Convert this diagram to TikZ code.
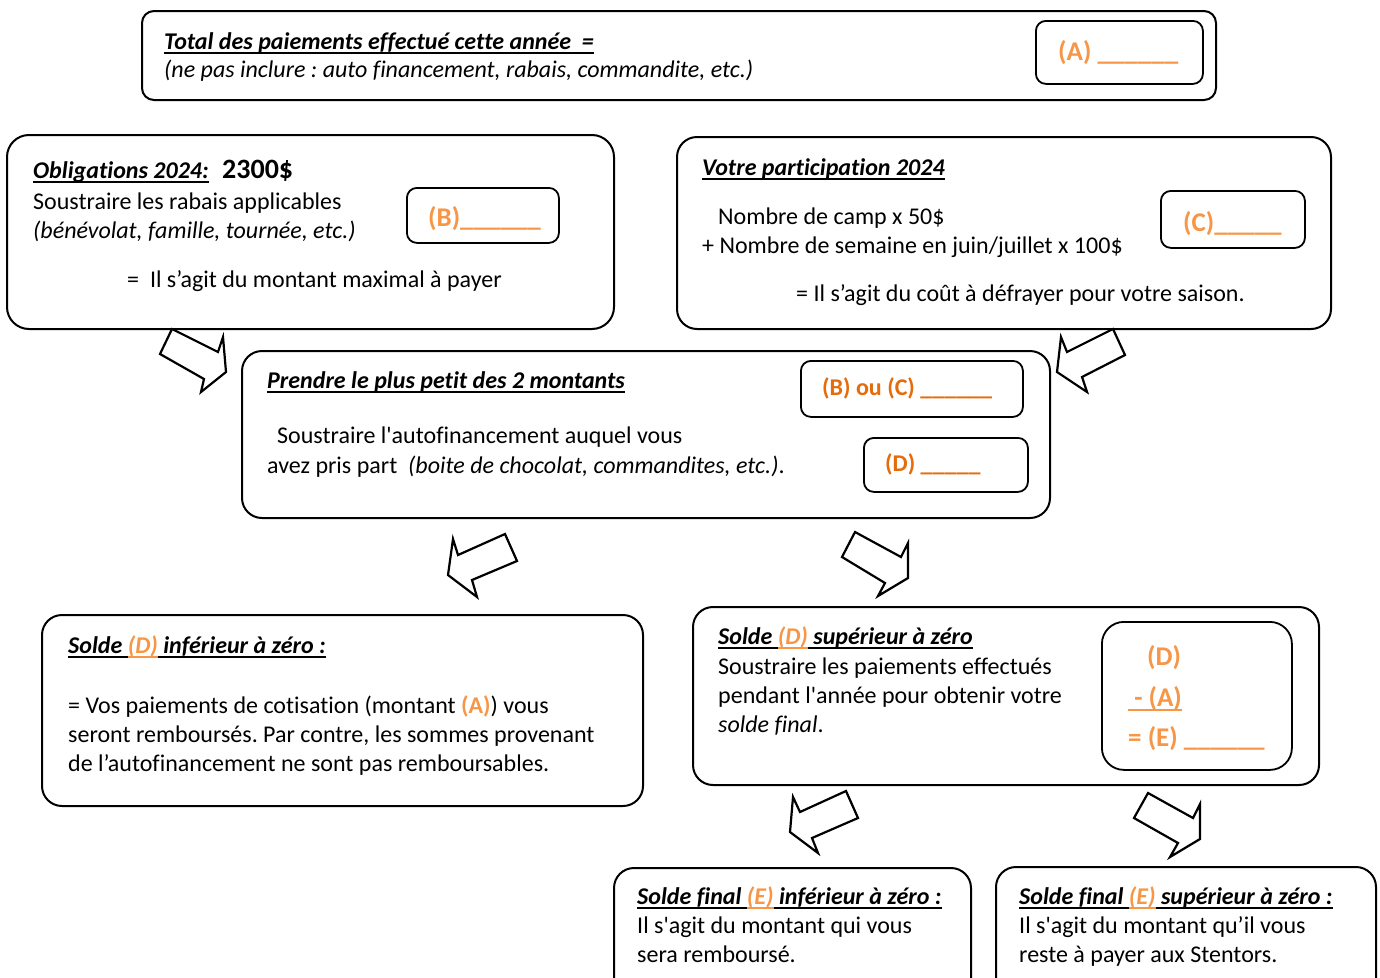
\documentclass[tikz,border=0pt]{standalone}
\usepackage{fontspec}
\setmainfont{Carlito}[Ligatures={TeX,NoCommon}]
\definecolor{lor}{HTML}{F79646}
\definecolor{dor}{HTML}{E46C0A}
\frenchspacing
\newcommand\myul[1]{\setbox0\hbox{#1}\rlap{\vrule height -3pt depth 5pt width \wd0}\box0}
\tikzset{
 outer/.style={draw=black, line width=2pt, rounded corners=20pt, anchor=north west, inner sep=0pt},
 topbox/.style={outer, rounded corners=12pt},
 inner/.style={draw=black, line width=1.8pt, rounded corners=10pt, anchor=north west, inner sep=0pt},
 txt/.style={anchor=base west, inner sep=0pt, font=\fontsize{24}{29}\selectfont},
 ttl/.style={txt, font=\fontsize{24}{29}\selectfont\bfseries\itshape},
 ans/.style={anchor=base west, inner sep=0pt, font=\fontsize{27}{32}\selectfont\bfseries, text=lor},
 ansd/.style={anchor=base west, inner sep=0pt, font=\fontsize{24}{29}\selectfont\bfseries, text=dor},
 barrow/.style={draw=black, line width=2.2pt, fill=white, line join=miter},
}
\begin{document}
\begin{tikzpicture}[x=1pt,y=-1pt]
\useasboundingbox[fill=white] (0,0) rectangle (1380,977);

% ---------- top box
\node[topbox, minimum width=1074pt, minimum height=89pt] (top) at (141,10) {};
\node[inner, minimum width=167pt, minimum height=63pt] (boxA) at (1035,20) {};
\node[ttl] (t1) at (164,49) {\myul{Total des paiements effectué cette année~ =}};
\node[txt, font=\fontsize{24}{29}\selectfont\itshape] (t2) at (164,77) {(ne pas inclure : auto financement, rabais, commandite, etc.)};
\node[ans] (aA) at (1058,60) {(A) \_\_\_\_\_\_};

% ---------- obligations
\node[outer, minimum width=607pt, minimum height=194pt, rounded corners=22pt] (obl) at (6,134) {};
\node[inner, minimum width=152pt, minimum height=55pt] (boxB) at (406,187) {};
\node[ttl] (o1) at (33,178) {\myul{Obligations 2024:}};
\node[anchor=base west, inner sep=0pt, font=\fontsize{28}{32}\selectfont\bfseries] (o2) at (222,178) {2300\$};
\node[txt] (o3) at (33,209) {Soustraire les rabais applicables};
\node[txt, font=\fontsize{24}{29}\selectfont\itshape] (o4) at (33,238) {(bénévolat, famille, tournée, etc.)};
\node[txt] (o5) at (127,287) {=~ Il s’agit du montant maximal à payer};
\node[ans] (aB) at (428,226) {(B)\_\_\_\_\_\_};

% ---------- participation
\node[outer, minimum width=654pt, minimum height=192pt] (par) at (676,136) {};
\node[inner, minimum width=144pt, minimum height=57pt] (boxC) at (1160,190) {};
\node[ttl] (p1) at (702,175) {\myul{Votre participation 2024}};
\node[txt] (p2) at (718,224) {Nombre de camp x 50\$};
\node[txt] (p3) at (702,253) {+ Nombre de semaine en juin/juillet x 100\$};
\node[txt] (p4) at (796,301) {= Il s’agit du coût à défrayer pour votre saison.};
\node[ans] (aC) at (1183,231) {(C)\_\_\_\_\_};

% ---------- prendre
\node[outer, minimum width=808pt, minimum height=167pt] (pre) at (241,350) {};
\node[inner, minimum width=222pt, minimum height=56pt] (boxBC) at (800,360) {};
\node[inner, minimum width=164pt, minimum height=54pt] (boxD) at (863,437) {};
\node[ttl] (r1) at (267,388) {\myul{Prendre le plus petit des 2 montants}};
\node[txt] (r2) at (277,443) {Soustraire l\textquotesingle autofinancement auquel vous};
\node[txt] (r3) at (267,473) {avez pris part~ \textit{(boite de chocolat, commandites, etc.)}.};
\node[ansd] (aBC) at (822,395) {(B) ou (C) \_\_\_\_\_\_};
\node[ansd] (aD) at (885,471) {(D) \_\_\_\_\_};

% ---------- solde D inferieur
\node[outer, minimum width=601pt, minimum height=191pt] (sdi) at (41,614) {};
\node[ttl] (s1) at (68,653) {\myul{Solde }{\color{lor}\myul{(D)}}\myul{ inférieur à zéro :}};
\node[txt] (s2) at (68,713) {= Vos paiements de cotisation (montant \textbf{\color{lor}(A)}) vous};
\node[txt] (s3) at (68,742) {seront remboursés. Par contre, les sommes provenant};
\node[txt] (s4) at (68,771) {de l’autofinancement ne sont pas remboursables.};

% ---------- solde D superieur
\node[outer, minimum width=626pt, minimum height=178pt] (sds) at (692,606) {};
\node[inner, minimum width=190pt, minimum height=148pt, rounded corners=22pt] (boxE) at (1101,621) {};
\node[ttl] (u1) at (718,644) {\myul{Solde }{\color{lor}\myul{(D)}}\myul{ supérieur à zéro}};
\node[txt] (u2) at (718,674) {Soustraire les paiements effectués};
\node[txt] (u3) at (718,703) {pendant l\textquotesingle année pour obtenir votre};
\node[txt] (u4) at (718,732) {\textit{solde final}.};
\node[ans] (e1) at (1147,665) {(D)};
\node[ans] (e2) at (1128,706) {\myul{~- (A)}};
\node[ans] (e3) at (1128,746) {= (E) \_\_\_\_\_\_};

% ---------- solde final inferieur
\node[outer, minimum width=357pt, minimum height=140pt] (sfi) at (613,867) {};
\node[ttl] (f1) at (637,904) {\myul{Solde final }{\color{lor}\myul{(E)}}\myul{ inférieur à zéro :}};
\node[txt] (f2) at (637,933) {Il s\textquotesingle agit du montant qui vous};
\node[txt] (f3) at (637,962) {sera remboursé.};

% ---------- solde final superieur
\node[outer, minimum width=380pt, minimum height=140pt] (sfs) at (995,866) {};
\node[ttl] (g1) at (1019,904) {\myul{Solde final }{\color{lor}\myul{(E)}}\myul{ supérieur à zéro :}};
\node[txt] (g2) at (1019,933) {Il s\textquotesingle agit du montant qu’il vous};
\node[txt] (g3) at (1019,962) {reste à payer aux Stentors.};

% ---------- block arrows
\draw[barrow] (172,329) -- (218,352) -- (223,337) -- (226,372) -- (201,392) -- (204,379) -- (160,354) -- cycle;
\draw[barrow] (1113,329) -- (1125,355) -- (1082,377) -- (1087,392) -- (1057,372) -- (1061,337) -- (1067,352) -- cycle;
\draw[barrow] (505,534) -- (517,561) -- (472,580) -- (477,597) -- (448,575) -- (453,539) -- (458,555) -- cycle;
\draw[barrow] (855,532) -- (901,557) -- (908,543) -- (908,578) -- (878,596) -- (885,583) -- (842,557) -- cycle;
\draw[barrow] (846,791) -- (858,818) -- (812,838) -- (818,853) -- (790,832) -- (793,797) -- (800,812) -- cycle;
\draw[barrow] (1148,793) -- (1193,818) -- (1200,804) -- (1200,839) -- (1170,857) -- (1178,843) -- (1134,818) -- cycle;
\end{tikzpicture}
\end{document}
